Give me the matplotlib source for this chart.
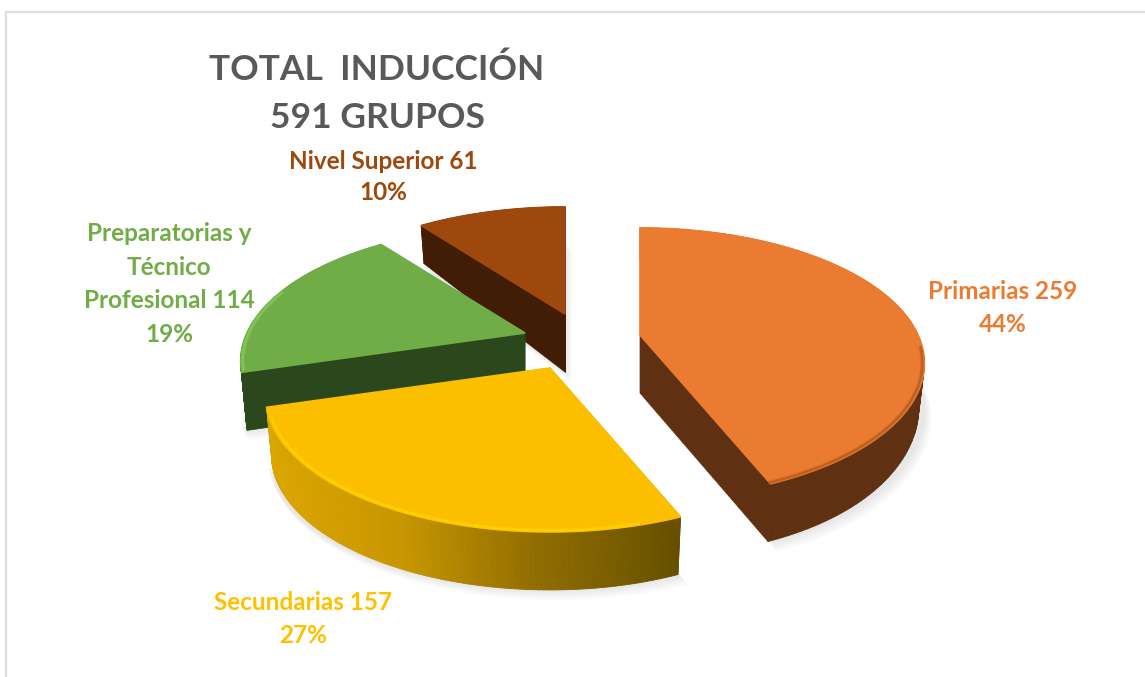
import numpy as np
import matplotlib
matplotlib.use("Agg")
import matplotlib.pyplot as plt
from matplotlib.collections import PolyCollection
from matplotlib.colors import LinearSegmentedColormap

# values
names = ["Primarias", "Secundarias", "Preparatorias y\nTécnico\nProfesional", "Nivel Superior"]
values = [259, 157, 114, 61]
percents = [44, 27, 19, 10]

colors = ["#EB7B30", "#FBBF00", "#70AD47", "#9E480E"]
rim_colors = ["#A9561C", "#FFD800", "#8FD060", "#9E480E"]
# wall shading, left to right across each slice
wall_colors = [
    ["#5F3011", "#5F3011"],
    ["#DCA600", "#C69500", "#8F6C00", "#665000"],
    ["#2B471C", "#2B471C"],
    ["#401D04", "#401D04"],
]
# pixel layout of the exploded slices and labels
apexes = [(640, 335), (550, 368), (525, 333), (565, 314)]
label_xy = [(1003, 308), (303, 619), (169, 284), (383, 177)]
label_spacing = [1.55, 1.55, 1.55, 1.47]
draw_order = [3, 2, 0, 1]
# part of each slice's rim that carries the bevel highlight, in degrees
rim_ranges = [(95, 158), (165, 250), (254, 290), (0, 0)]

A, B, K = 278.0, 129.5, 0.21  # ellipse radii and perspective strength
WALL = 58.0
TITLE = "TOTAL  INDUCCIÓN\n591 GRUPOS"


def project(apex, theta, r=1.0):
    s = r / (1 + K * r * np.cos(theta))
    return apex[0] + A * np.sin(theta) * s, apex[1] - B * np.cos(theta) * s


def wall_height(theta, r=1.0):
    back = 25 * np.maximum(np.cos(theta), 0) * r
    side = 14 * np.maximum(np.sin(theta), 0) ** 4 * r
    return WALL - back - side


plt.rcParams["font.family"] = ["Lato", "DejaVu Sans"]
fig = plt.figure(figsize=(11.45, 6.77), dpi=100, facecolor="white")
ax = fig.add_axes([0, 0, 1, 1])
ax.set_xlim(0, 1145)
ax.set_ylim(677, 0)
ax.axis("off")

# chart frame, cut off by the image on the right and bottom
ax.plot([6, 6, 1145], [677, 12, 12], color="#DEDEDE", lw=1.6)

edges = np.concatenate([[0], np.cumsum(values)]) / sum(values) * 2 * np.pi

# soft shadows first so that they sit under every slice
for i in range(4):
    th = np.linspace(edges[i], edges[i + 1], 80)
    x, y = project(apexes[i], th)
    sx = np.concatenate([[apexes[i][0]], x])
    sy = np.concatenate([[apexes[i][1] + WALL], y + wall_height(th)])
    for off in range(1, 9):
        ax.fill(sx + off * 0.9, sy + off * 1.3, color="black", alpha=0.012, lw=0, zorder=1)

z = 2
for i in draw_order:
    apex = apexes[i]
    th = np.linspace(edges[i], edges[i + 1], 120)
    x, y = project(apex, th)
    bx = x - 0.02 * (x - apex[0])  # the underside is a little smaller
    cmap = LinearSegmentedColormap.from_list("wall", wall_colors[i])

    # straight cut walls (only the ones facing the viewer show)
    for t in (edges[i], edges[i + 1]):
        ex, ey = project(apex, t)
        quad = [apex, (ex, ey), (ex - 0.02 * (ex - apex[0]), ey + wall_height(t)),
                (apex[0], apex[1] + WALL)]
        ax.fill(*zip(*quad), color=wall_colors[i][-1], lw=0.5, zorder=z)

    # curved outer wall, in narrow strips so the shading can run across it
    h = wall_height(th)
    polys, strip_colors = [], []
    span = max(x.max() - x.min(), 1)
    for j in range(len(th) - 1):
        polys.append([(x[j], y[j]), (x[j + 1], y[j + 1]),
                      (bx[j + 1], y[j + 1] + h[j + 1]), (bx[j], y[j] + h[j])])
        strip_colors.append(cmap((x[j] - x.min()) / span))
    ax.add_collection(PolyCollection(polys, facecolors=strip_colors, edgecolors=strip_colors,
                                     linewidths=0.6, zorder=z))

    # top face and its bevelled rim
    ax.fill(np.concatenate([[apex[0]], x]), np.concatenate([[apex[1]], y]),
            color=colors[i], lw=1.2, zorder=z + 1)
    lo, hi = np.radians(rim_ranges[i])
    if hi > lo:
        rth = np.linspace(lo, hi, 80)
        rx, ry = project(apex, rth, 0.993)
        for lw, alpha in ((3.0, 0.25), (1.8, 0.35), (0.9, 0.5)):
            ax.plot(rx, ry, color=rim_colors[i], lw=lw, alpha=alpha, zorder=z + 1,
                    solid_capstyle="butt")
    z += 2

for i in range(4):
    ax.text(label_xy[i][0], label_xy[i][1], f"{names[i]} {values[i]}\n{percents[i]}%",
            color=colors[i] if i != 1 else "#FFC000", fontsize=17.5, fontweight="bold",
            ha="center", va="center", linespacing=label_spacing[i], zorder=20)

ax.text(377, 94, TITLE, color="#595959", fontsize=25.5, fontweight="bold",
        ha="center", va="center", linespacing=1.62, zorder=20)

fig.savefig("out.png", dpi=100, facecolor="white")
